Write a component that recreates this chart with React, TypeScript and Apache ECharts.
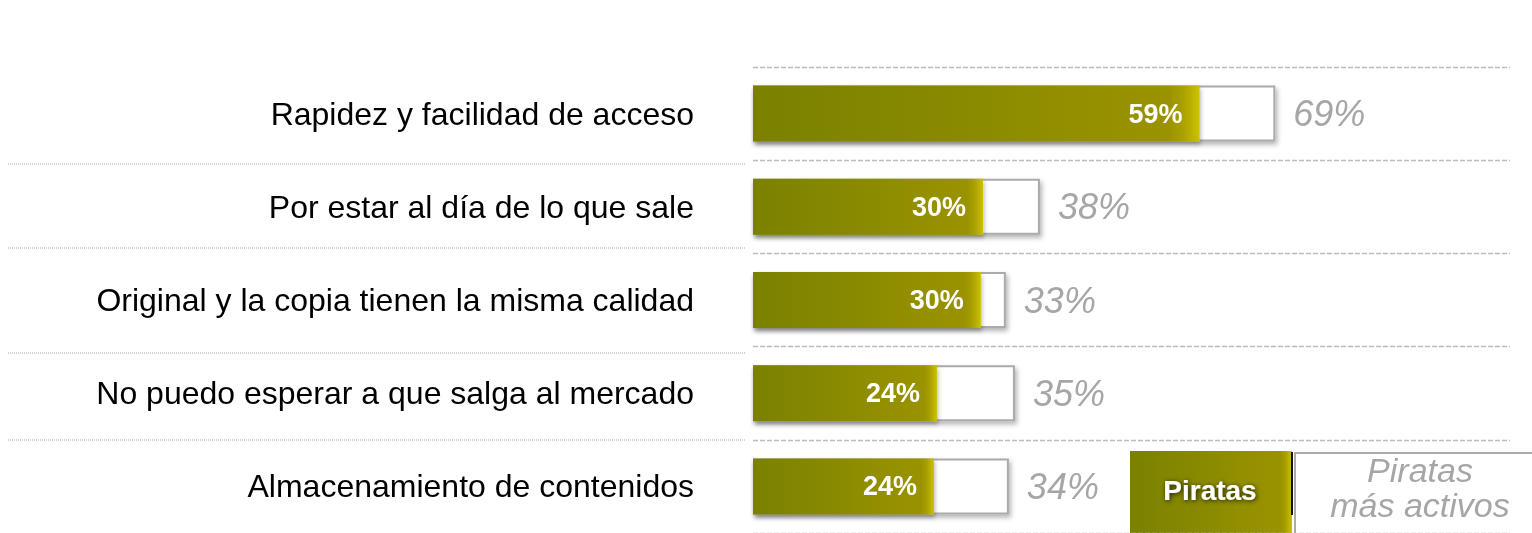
import React, { useEffect, useRef } from "react";
import * as echarts from "echarts";

const categories = [
  "Rapidez y facilidad de acceso",
  "Por estar al día de lo que sale",
  "Original y la copia tienen la misma calidad",
  "No puedo esperar a que salga al mercado",
  "Almacenamiento de contenidos",
];
// values (labels show them rounded)
const piratas = [59, 30.4, 30.1, 24.3, 23.9];
const piratasActivos = [69, 37.9, 33.4, 34.6, 33.8];
const legendNames = ["Piratas", "Piratas\nmás activos"];

const FONT = 'Arial, "Liberation Sans", sans-serif';

const olive = {
  type: "linear",
  x: 0,
  y: 0,
  x2: 1,
  y2: 0,
  colorStops: [
    { offset: 0, color: "#7a8100" },
    { offset: 0.93, color: "#9a9300" },
    { offset: 0.96, color: "#a89f00" },
    { offset: 1, color: "#cdc100" },
  ],
};

const pct = (p: any) => `${Math.round(p.value)}%`;

export default function App() {
  const ref = useRef<HTMLDivElement>(null);
  useEffect(() => {
    if (!ref.current) return;
    const chart = echarts.init(ref.current, null, { renderer: "svg" });
    const leftLines = [164, 248, 353, 440].map((y) => ({
      type: "line",
      shape: { x1: 8, y1: y, x2: 745, y2: y },
      style: { stroke: "#a8a8a8", lineWidth: 1, lineDash: [1, 1] },
      silent: true,
    }));
    chart.setOption({
      animation: false,
      grid: { left: 753, top: 67, width: 757, height: 470, containLabel: false },
      xAxis: { type: "value", min: 0, max: 100, show: false },
      yAxis: {
        type: "category",
        inverse: true,
        data: categories,
        axisLine: { show: false },
        axisTick: { show: false },
        axisLabel: {
          fontSize: 32,
          color: "#000",
          fontFamily: FONT,
          margin: 59,
          interval: 0,
        },
        splitLine: {
          show: true,
          interval: 0,
          lineStyle: { color: "#bdbdbd", width: 1.3, type: [5, 2] },
        },
      },
      series: [
        {
          name: "Piratas más activos",
          type: "bar",
          data: piratasActivos,
          barWidth: 56,
          barGap: "-100%",
          itemStyle: {
            color: "#ffffff",
            borderColor: "#aaaaaa",
            borderWidth: 2,
            shadowColor: "rgba(0,0,0,0.3)",
            shadowBlur: 5,
            shadowOffsetX: 2,
            shadowOffsetY: 3,
          },
          label: {
            show: true,
            position: "right",
            distance: 18,
            formatter: pct,
            fontSize: 36,
            fontStyle: "italic",
            fontFamily: FONT,
            color: "#a6a6a6",
          },
          z: 2,
        },
        {
          name: "Piratas",
          type: "bar",
          data: piratas,
          barWidth: 56,
          barGap: "-100%",
          itemStyle: {
            color: olive,
            shadowColor: "rgba(0,0,0,0.3)",
            shadowBlur: 4,
            shadowOffsetX: 1,
            shadowOffsetY: 3,
          },
          label: {
            show: true,
            position: "insideRight",
            distance: 17,
            formatter: pct,
            fontSize: 27,
            fontWeight: "bold",
            fontFamily: FONT,
            color: "#ffffff",
          },
          z: 3,
        },
      ],
      graphic: [
        ...leftLines,
        {
          type: "rect",
          shape: { x: 1130, y: 451, width: 162, height: 90 },
          style: { fill: olive },
          silent: true,
        },
        {
          type: "line",
          shape: { x1: 1292, y1: 452, x2: 1292, y2: 515 },
          style: { stroke: "#111", lineWidth: 2 },
          silent: true,
        },
        {
          type: "text",
          x: 1210,
          y: 490,
          style: {
            text: legendNames[0],
            fill: "#ffffff",
            font: `bold 28px ${FONT}`,
            align: "center",
            verticalAlign: "middle",
            textShadowColor: "rgba(0,0,0,0.8)",
            textShadowBlur: 5,
            textShadowOffsetX: 1,
            textShadowOffsetY: 1,
          },
          silent: true,
        },
        {
          type: "polyline",
          shape: { points: [[1295, 540], [1295, 453], [1540, 453]] },
          style: { stroke: "#aaaaaa", lineWidth: 2, fill: "none" },
          silent: true,
        },
        {
          type: "text",
          x: 1420,
          y: 487,
          style: {
            text: legendNames[1],
            fill: "#a6a6a6",
            font: `italic 34px ${FONT}`,
            lineHeight: 35,
            align: "center",
            verticalAlign: "middle",
          },
          silent: true,
        },
      ],
    });
    return () => chart.dispose();
  }, []);
  return (
    <div
      ref={ref}
      style={{ position: "fixed", left: 0, top: 0, width: 1532, height: 533 }}
    />
  );
}
